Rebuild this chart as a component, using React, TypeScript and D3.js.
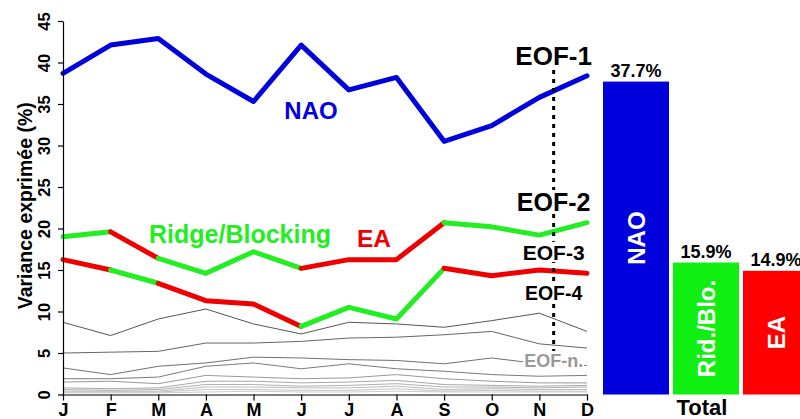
import React, { useEffect, useRef } from "react";
import * as d3 from "d3";

const months = ["J", "F", "M", "A", "M", "J", "J", "A", "S", "O", "N", "D"];
const yTicks = [0, 5, 10, 15, 20, 25, 30, 35, 40, 45];

const nao = [38.7, 42.1, 42.9, 38.6, 35.3, 42.1, 36.7, 38.2, 30.5, 32.4, 35.8, 38.4];
const eof2 = [19.0, 19.6, 16.4, 14.6, 17.2, 15.2, 16.25, 16.25, 20.7, 20.2, 19.2, 20.7];
const eof3 = [16.25, 15.0, 13.4, 11.3, 10.9, 8.2, 10.5, 9.1, 15.2, 14.3, 15.0, 14.6];
// pattern of each segment (starting month) for EOF-2 / EOF-3
const eof2Pattern = ["RB", "EA", "RB", "RB", "RB", "EA", "EA", "EA", "RB", "RB", "RB"];
const eof3Pattern = ["EA", "RB", "EA", "EA", "EA", "RB", "RB", "RB", "EA", "EA", "EA"];

const eof4 = [8.7, 7.1, 9.1, 10.3, 8.5, 7.3, 8.7, 8.5, 8.1, 8.9, 9.8, 7.6];
const eof5 = [5.0, 5.1, 5.2, 6.2, 6.2, 6.4, 6.8, 6.9, 7.2, 7.6, 6.1, 5.6];
const eof6 = [3.2, 2.4, 3.4, 3.8, 4.5, 4.4, 4.2, 4.1, 3.7, 4.4, 3.7, 3.5];
const eof7 = [1.9, 1.9, 2.1, 3.4, 3.8, 3.1, 3.7, 3.1, 2.8, 2.4, 2.2, 2.3];
const eof8 = [1.5, 1.6, 1.3, 2.3, 2.1, 1.9, 2.0, 2.4, 1.9, 1.6, 1.4, 1.4];
const eof9 = [0.8, 0.7, 0.8, 1.6, 1.6, 1.4, 1.5, 1.7, 1.2, 1.1, 1.0, 1.1];
const eof10 = [0.6, 0.5, 0.6, 1.2, 1.2, 1.0, 1.1, 1.3, 0.9, 0.9, 0.8, 0.9];
const eof11 = [0.4, 0.4, 0.4, 0.9, 0.9, 0.8, 0.8, 1.0, 0.6, 0.7, 0.6, 0.6];
const eof12 = [0.3, 0.3, 0.3, 0.6, 0.6, 0.5, 0.5, 0.7, 0.4, 0.5, 0.4, 0.4];
const eof13 = [0.2, 0.2, 0.2, 0.3, 0.4, 0.3, 0.3, 0.4, 0.3, 0.3, 0.3, 0.3];
const minorSeries = [eof13, eof12, eof11, eof10, eof9, eof8, eof7, eof6, eof5, eof4];
const minorColors = ["#cccccc", "#c4c4c4", "#bbbbbb", "#b0b0b0", "#a8a8a8", "#999999", "#7a7a7a", "#707070", "#666666", "#555555"];

const barLabels = ["NAO", "Rid./Blo.", "EA"];
const barValues = [37.7, 15.9, 14.9];
const barColors = ["#0000dd", "#11ee11", "#ff0000"];

const patternColor: Record<string, string> = { RB: "#22ee22", EA: "#ee0000" };

const eofLabels = [
  { text: "EOF-1", size: 26, base: 65, color: "#000" },
  { text: "EOF-2", size: 25, base: 211, color: "#000" },
  { text: "EOF-3", size: 21, base: 260, color: "#000" },
  { text: "EOF-4", size: 19.5, base: 300, color: "#000" },
  { text: "EOF-n.", size: 18, base: 367, color: "#999999" },
];

const FONT = "'Liberation Sans', Arial, Helvetica, sans-serif";

export default function App() {
  const ref = useRef<SVGSVGElement>(null);

  useEffect(() => {
    const svg = d3.select(ref.current);
    svg.selectAll("*").remove();

    const x = d3.scaleLinear().domain([0, 11]).range([63, 587]);
    const y = d3.scaleLinear().domain([0, 45]).range([394.5, 21]);

    const line = d3
      .line<number>()
      .x((_, i) => x(i))
      .y((d) => y(d));

    // minor EOF lines
    const gMinor = svg.append("g");
    minorSeries.forEach((s, k) => {
      gMinor
        .append("path")
        .attr("d", line(s))
        .attr("fill", "none")
        .attr("stroke", minorColors[k])
        .attr("stroke-width", 1);
    });

    // coloured segmented lines
    const drawSegmented = (vals: number[], pattern: string[]) => {
      let start = 0;
      for (let i = 1; i <= pattern.length; i++) {
        if (i === pattern.length || pattern[i] !== pattern[start]) {
          const pts = d3.range(start, i + 1).map((j) => [x(j), y(vals[j])] as [number, number]);
          svg
            .append("path")
            .attr("d", d3.line()(pts))
            .attr("fill", "none")
            .attr("stroke", patternColor[pattern[start]])
            .attr("stroke-width", 5)
            .attr("stroke-linejoin", "round")
            .attr("stroke-linecap", "round");
          start = i;
        }
      }
    };
    drawSegmented(eof3, eof3Pattern);
    drawSegmented(eof2, eof2Pattern);

    svg
      .append("path")
      .attr("d", line(nao))
      .attr("fill", "none")
      .attr("stroke", "#0000dd")
      .attr("stroke-width", 5)
      .attr("stroke-linejoin", "round")
      .attr("stroke-linecap", "round");

    // axes
    const yAxis = d3
      .axisLeft(y)
      .tickValues(yTicks)
      .tickSize(5)
      .tickSizeOuter(0)
      .tickFormat(d3.format("d") as any);
    const gy = svg.append("g").attr("transform", `translate(${x(0)},0)`).call(yAxis);
    gy.select(".domain").attr("stroke", "#000").attr("stroke-width", 1.2);
    gy.selectAll(".tick line").attr("stroke", "#000").attr("stroke-width", 1.2);
    gy.selectAll(".tick text")
      .attr("x", null)
      .attr("dy", null)
      .attr("transform", "translate(-13,0) rotate(-90)")
      .attr("text-anchor", "middle")
      .attr("fill", "#000")
      .style("font-family", FONT)
      .style("font-size", "16.5px")
      .style("font-weight", "bold");

    const xAxis = d3
      .axisBottom(x)
      .tickValues(d3.range(12))
      .tickSize(6)
      .tickSizeOuter(0)
      .tickFormat((d: any) => months[d as number]);
    const gx = svg.append("g").attr("transform", `translate(0,${y(0)})`).call(xAxis);
    gx.select(".domain").attr("stroke", "#000").attr("stroke-width", 1.2);
    gx.selectAll(".tick line").attr("stroke", "#000").attr("stroke-width", 1.2);
    gx.selectAll(".tick text")
      .attr("fill", "#000")
      .style("font-family", FONT)
      .style("font-size", "18px")
      .style("font-weight", "bold");

    // y axis title
    svg
      .append("text")
      .attr("transform", `translate(32,${(y(0) + y(45)) / 2 - 2}) rotate(-90)`)
      .attr("text-anchor", "middle")
      .style("font-family", FONT)
      .style("font-size", "19.5px")
      .style("font-weight", "bold")
      .attr("fill", "#000")
      .text("Variance exprimée (%)");

    // series labels
    const addLabel = (t: string, xx: number, yy: number, color: string, size: number, anchor = "start") =>
      svg
        .append("text")
        .attr("x", xx)
        .attr("y", yy)
        .attr("text-anchor", anchor)
        .attr("fill", color)
        .style("font-family", FONT)
        .style("font-size", `${size}px`)
        .style("font-weight", "bold")
        .text(t);
    addLabel("NAO", 311, 119, "#0000dd", 24, "middle");
    addLabel("Ridge/Blocking", 149, 243, "#22ee22", 25);
    addLabel("EA", 357, 247, "#ee0000", 24.5);

    // dotted separator
    const xd = x(10.3);
    svg
      .append("line")
      .attr("x1", xd)
      .attr("x2", xd)
      .attr("y1", 70)
      .attr("y2", 356)
      .attr("stroke", "#000")
      .attr("stroke-width", 3)
      .attr("stroke-dasharray", "4 5");

    // EOF labels with white background
    eofLabels.forEach((l) => {
      const rect = svg.append("rect").attr("fill", "#fff");
      const t = svg
        .append("text")
        .attr("x", xd)
        .attr("y", l.base)
        .attr("text-anchor", "middle")
        .attr("fill", l.color)
        .style("font-family", FONT)
        .style("font-size", `${l.size}px`)
        .style("font-weight", "bold")
        .text(l.text);
      const node = t.node() as SVGTextElement;
      const w = node.getComputedTextLength();
      const cap = l.size * 0.72;
      rect
        .attr("x", xd - w / 2 - 1)
        .attr("y", l.base - cap - 3)
        .attr("width", w + 2)
        .attr("height", cap + 5);
    });

    // bars
    const xb = d3
      .scaleBand<string>()
      .domain(barLabels)
      .range([601, 811])
      .paddingInner(0.057)
      .paddingOuter(0.0285);
    barLabels.forEach((lab, i) => {
      const bx = xb(lab) as number;
      const bw = xb.bandwidth();
      svg
        .append("rect")
        .attr("x", bx)
        .attr("y", y(barValues[i]))
        .attr("width", bw)
        .attr("height", y(0) - y(barValues[i]))
        .attr("fill", barColors[i]);
      svg
        .append("text")
        .attr("x", bx + bw / 2)
        .attr("y", y(barValues[i]) - 4.5)
        .attr("text-anchor", "middle")
        .attr("fill", "#000")
        .style("font-family", FONT)
        .style("font-size", "18px")
        .style("font-weight", "bold")
        .text(`${barValues[i]}%`);
      const cy = (y(barValues[i]) + y(0)) / 2;
      svg
        .append("text")
        .attr("transform", `translate(${bx + bw / 2},${cy}) rotate(-90)`)
        .attr("text-anchor", "middle")
        .attr("dominant-baseline", "central")
        .attr("fill", "#fff")
        .style("font-family", FONT)
        .style("font-size", "24px")
        .style("font-weight", "bold")
        .text(lab);
    });
    const xg = (xb("Rid./Blo.") as number) + xb.bandwidth() / 2 - 4;
    svg
      .append("text")
      .attr("x", xg)
      .attr("y", 415)
      .attr("text-anchor", "middle")
      .attr("fill", "#000")
      .style("font-family", FONT)
      .style("font-size", "22px")
      .style("font-weight", "bold")
      .text("Total");
  }, []);

  return (
    <svg
      ref={ref}
      width={800}
      height={419}
      style={{ position: "absolute", left: 0, top: 0, background: "#fff" }}
    />
  );
}
